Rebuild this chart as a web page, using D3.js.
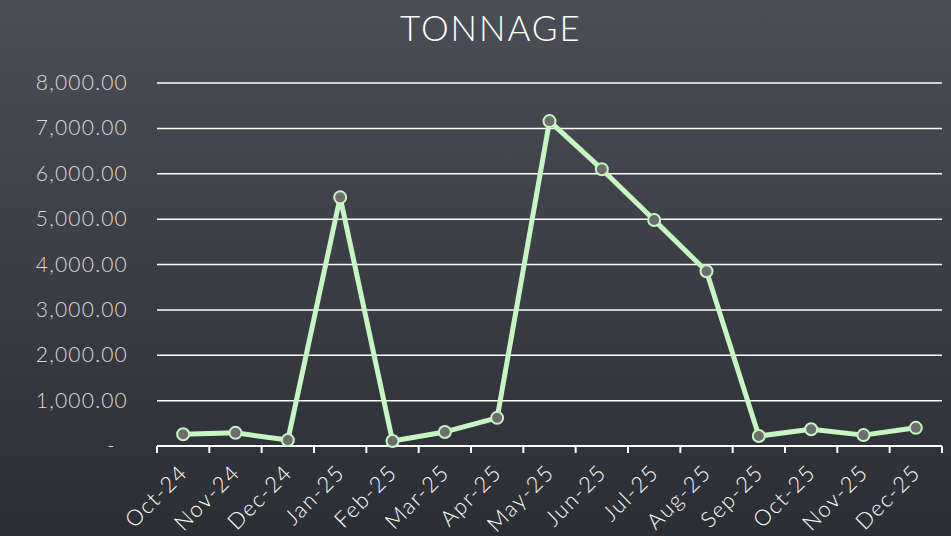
<!DOCTYPE html>
<html>
<head>
<meta charset="utf-8">
<script src="https://cdn.jsdelivr.net/npm/d3@7"></script>
<style>
  body { margin: 0; }
  svg { display: block; font-family: "Lato", "Open Sans", sans-serif; }
</style>
</head>
<body>
<div id="chart"></div>
<script>
var months = ["Oct-24", "Nov-24", "Dec-24", "Jan-25", "Feb-25", "Mar-25", "Apr-25", "May-25",
              "Jun-25", "Jul-25", "Aug-25", "Sep-25", "Oct-25", "Nov-25", "Dec-25"];
var tonnage = [260, 290, 130, 5480, 110, 310, 620, 7160, 6100, 4980, 3850, 220, 370, 240, 400];
var yTicks = [0, 1000, 2000, 3000, 4000, 5000, 6000, 7000, 8000];
var title = "TONNAGE";

var width = 951, height = 536;
var plotLeft = 157, plotRight = 942, plotTop = 83, plotBottom = 446;

var svg = d3.select("#chart")
    .append("svg")
    .attr("width", width)
    .attr("height", height);

var grad = svg.append("defs").append("linearGradient")
    .attr("id", "bg")
    .attr("x1", 0).attr("y1", 0).attr("x2", 0).attr("y2", 1);
grad.append("stop").attr("offset", "0%").attr("stop-color", "#4b4e56");
grad.append("stop").attr("offset", "100%").attr("stop-color", "#2b2e35");

svg.append("rect")
    .attr("width", width)
    .attr("height", height)
    .attr("fill", "url(#bg)");

var x = d3.scaleBand().domain(months).range([plotLeft, plotRight]);
var y = d3.scaleLinear().domain([0, 8000]).range([plotBottom, plotTop]);

svg.append("text")
    .attr("x", 491)
    .attr("y", 41)
    .attr("text-anchor", "middle")
    .attr("fill", "#ffffff")
    .attr("font-size", "35px")
    .attr("font-weight", 300)
    .attr("letter-spacing", "2px")
    .text(title);

// gridlines
svg.selectAll(".grid")
    .data(yTicks.filter(function(d) { return d > 0; }))
    .enter().append("line")
    .attr("class", "grid")
    .attr("x1", plotLeft)
    .attr("x2", plotRight)
    .attr("y1", function(d) { return y(d); })
    .attr("y2", function(d) { return y(d); })
    .attr("stroke", "#ffffff")
    .attr("stroke-width", 1.5);

// y labels
svg.selectAll(".ylab")
    .data(yTicks)
    .enter().append("text")
    .attr("class", "ylab")
    .attr("x", function(d) { return d === 0 ? 116 : 128; })
    .attr("y", function(d) { return y(d) + 7; })
    .attr("text-anchor", "end")
    .attr("fill", "#d9d9d9")
    .attr("font-size", "21px")
    .attr("font-weight", 300)
    .attr("letter-spacing", "1.2px")
    .text(function(d) { return d === 0 ? "-" : d3.format(",.2f")(d); });

// x axis
var xAxis = svg.append("g")
    .attr("transform", "translate(0," + plotBottom + ")");
xAxis.append("line")
    .attr("x1", plotLeft).attr("x2", plotRight)
    .attr("stroke", "#ffffff").attr("stroke-width", 2);
var edges = months.map(function(m) { return x(m); }).concat([plotRight]);
xAxis.selectAll(".tick")
    .data(edges)
    .enter().append("line")
    .attr("class", "tick")
    .attr("x1", function(d) { return d; })
    .attr("x2", function(d) { return d; })
    .attr("y1", 0).attr("y2", 7)
    .attr("stroke", "#ffffff").attr("stroke-width", 2);

svg.selectAll(".xlab")
    .data(months)
    .enter().append("text")
    .attr("class", "xlab")
    .attr("text-anchor", "end")
    .attr("fill", "#ffffff")
    .attr("font-size", "22px")
    .attr("font-weight", 300)
    .attr("letter-spacing", "1.5px")
    .attr("transform", function(d) {
        return "translate(" + (x(d) + x.bandwidth() / 2 + 6) + "," + (plotBottom + 28) + ") rotate(-45)";
    })
    .text(function(d) { return d; });

// line
var line = d3.line()
    .x(function(d, i) { return x(months[i]) + x.bandwidth() / 2; })
    .y(function(d) { return y(d); });

svg.append("path")
    .datum(tonnage)
    .attr("fill", "none")
    .attr("stroke", "#c6f7c3")
    .attr("stroke-width", 5)
    .attr("stroke-linejoin", "round")
    .attr("d", line);

svg.selectAll(".pt")
    .data(tonnage)
    .enter().append("circle")
    .attr("class", "pt")
    .attr("cx", function(d, i) { return x(months[i]) + x.bandwidth() / 2; })
    .attr("cy", function(d) { return y(d); })
    .attr("r", 6)
    .attr("fill", "#6d6d6d")
    .attr("stroke", "#c6f7c3")
    .attr("stroke-width", 2);
</script>
</body>
</html>
